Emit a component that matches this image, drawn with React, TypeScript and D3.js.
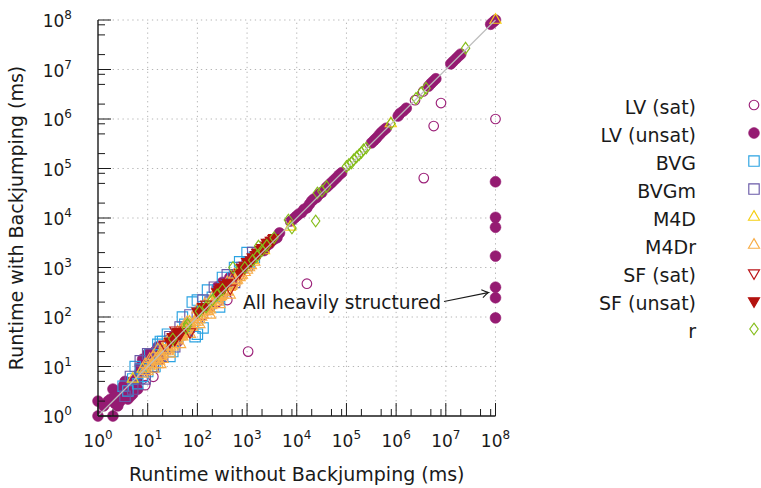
import React from "react";
import * as d3 from "d3";

type Pt = [number, number];

// ---- data (runtime without BJ, runtime with BJ) in ms ----
const lvSat: Pt[] = [
  [4, 4.5], [8.9, 4.2], [13, 6.2], [7.9, 5.6], [25, 22], [63, 50], [130, 110], [250, 200],
  [400, 220], [700, 700], [1050, 20], [7400, 8500], [16000, 470], [2.4e6, 2.4e6],
  [3.5e6, 3.6e6], [3.6e6, 6.4e4], [5.7e6, 7.2e5], [8e6, 2.1e6], [1e8, 1e6],
];

const lvUnsat: Pt[] = [
  [1, 1], [1, 2], [2, 1], [1.6, 2], [1.8, 2.2], [2, 3.5], [2.2, 1.8], [2.5, 2.8], [2.8, 2],
  [3.2, 2.5], [3.2, 4], [3.5, 3.2], [4, 2.2], [4, 4.5], [4.5, 3.5], [5, 2.8], [5, 5], [5.6, 4],
  [6.3, 6.3], [7.1, 10], [7.9, 14], [8.9, 11], [10, 18], [11, 13], [13, 16], [14, 20],
  [1.3, 1.6], [2.5, 1.6], [3, 3], [3.5, 5], [4.5, 2.5], [5, 3.5], [6, 5], [6.3, 3.5], [7, 8],
  [9, 9], [12, 12], [16, 25], [18, 14], [20, 22], [2.2, 2.5],
  [28, 36], [32, 40], [40, 32], [56, 63], [71, 56], [110, 140], [180, 160], [250, 400],
  [320, 500], [450, 630], [500, 450],
  [2200, 2200], [2500, 2800], [2800, 3000], [3200, 3500], [3600, 3800], [4000, 4000], [4500, 5000],
  [8000, 9000], [9000, 1e4], [1e4, 1.1e4], [1.1e4, 1.2e4], [1.26e4, 1.3e4], [1.4e4, 1.5e4],
  [1.6e4, 1.6e4], [1.8e4, 1.9e4], [2e4, 2.2e4], [2.2e4, 2.4e4], [2.5e4, 2.6e4], [2.8e4, 3e4],
  [3.2e4, 3.3e4], [4e4, 4.2e4], [4.5e4, 4.7e4], [5e4, 5.2e4], [5.6e4, 5.8e4], [6.3e4, 6.5e4],
  [7.1e4, 7.4e4], [8e4, 8.2e4], [3.2e5, 3.3e5], [3.6e5, 3.7e5], [4e5, 4.1e5], [4.5e5, 4.7e5],
  [5e5, 5.3e5], [5.6e5, 5.9e5], [6.3e5, 6.5e5], [1.1e6, 1.15e6], [1.2e6, 1.3e6], [1.4e6, 1.45e6],
  [1.6e6, 1.65e6], [4.5e6, 4.6e6], [5e6, 5.2e6], [5.6e6, 5.8e6], [6.3e6, 6.5e6], [1.26e7, 1.3e7],
  [1.4e7, 1.45e7], [1.6e7, 1.65e7], [1.8e7, 1.85e7], [2e7, 2.05e7], [8e7, 8.2e7], [9e7, 9.1e7],
  [1e8, 1e8],
  [1e8, 5.4e4], [1e8, 1.03e4], [1e8, 6.5e3], [1e8, 1.7e3], [1e8, 400], [1e8, 245], [1e8, 96],
];

const bvg: Pt[] = [
  [3.2, 4], [4, 3.2], [5, 5.6], [5.6, 10], [6.3, 4.5], [7.1, 8.9], [7.9, 6.3], [10, 7.9],
  [11, 18], [12, 10], [14, 10], [16, 28], [18, 32], [20, 32], [25, 45], [28, 16], [32, 20],
  [40, 40], [50, 100], [56, 71], [79, 200], [90, 40], [100, 220], [100, 45], [130, 160],
  [130, 60], [160, 350], [200, 250], [280, 160], [320, 630], [400, 450], [560, 1000],
  [710, 1300], [1000, 2000], [1100, 1300], [1400, 1600],
];

const bvgm: Pt[] = [
  [3.5, 2.5], [5, 3.5], [4.5, 6.3], [7.1, 13], [8.9, 5.6], [10, 18], [13, 10], [16, 20],
  [20, 16], [22, 25], [28, 40], [35, 25], [45, 63], [63, 50], [71, 110], [100, 100],
  [130, 220], [180, 200], [220, 400], [320, 320], [400, 710], [560, 500], [790, 1000],
  [1000, 1100], [1300, 2000],
];

const m4d: Pt[] = [
  [5, 5.6], [7.9, 8.9], [12, 11], [20, 22], [28, 28], [45, 50], [70, 79], [110, 120],
  [180, 200], [250, 280], [450, 450], [700, 800], [900, 1100], [1300, 1400], [2200, 2200],
  [7400, 6600], [7.8e5, 8.1e5], [1e8, 1e8],
];

const m4dr: Pt[] = [
  [7.9, 7.1], [10, 7.9], [11, 10], [13, 8.9], [14, 13], [16, 11], [18, 16], [20, 14],
  [20, 18], [22, 20], [25, 20], [28, 25], [32, 25], [32, 32], [35, 28], [40, 35], [45, 40],
  [50, 40], [50, 50], [56, 45], [63, 56], [71, 63], [79, 63], [89, 79], [100, 79], [100, 100],
  [110, 89], [130, 110], [140, 130], [160, 130], [160, 160], [180, 140], [200, 180],
  [220, 200], [250, 200], [280, 250], [320, 280], [350, 320], [400, 320], [450, 400],
  [500, 450], [560, 500], [630, 560], [710, 630], [790, 710], [1000, 890], [1100, 1000],
  [13, 16], [25, 32], [40, 50], [63, 79], [100, 140], [200, 250], [400, 500], [8.9, 11],
  [16, 22], [35, 45],
  [9, 8], [12, 11], [15, 14], [17, 13], [19, 17], [24, 22], [27, 22], [30, 28], [38, 33],
  [42, 40], [48, 42], [53, 47], [60, 53], [67, 63], [75, 67], [85, 71], [95, 89], [120, 100],
  [150, 140], [170, 150], [190, 170], [240, 220], [260, 230], [300, 260], [380, 350],
  [480, 420], [600, 540], [750, 680], [900, 800], [1200, 1100], [1400, 1300],
  [18, 11], [28, 18], [45, 28], [71, 45], [110, 71], [180, 110], [280, 180], [450, 280],
  [11, 14], [22, 28], [56, 71], [140, 180], [280, 350], [560, 710],
];

const sfSat: Pt[] = [
  [22, 28], [36, 54], [71, 50], [150, 180], [300, 380], [460, 380], [600, 720], [1200, 1400],
];

const sfUnsat: Pt[] = [
  [28, 32], [32, 40], [35, 35], [38, 42], [40, 50], [42, 50], [45, 45], [100, 130], [130, 160],
  [250, 320], [280, 350], [300, 380], [320, 400], [350, 400], [360, 450], [400, 500],
  [710, 790], [790, 1000], [890, 1000], [900, 1100], [1000, 1300], [1100, 1300], [1200, 1400],
  [1300, 1600], [1400, 1600], [1500, 1800], [1600, 2000], [1700, 2000], [1800, 2000],
  [1900, 2300], [2000, 2500], [2100, 2500], [2200, 2500], [2400, 2800], [2500, 3200],
  [2700, 3000], [2800, 3200], [3000, 3500], [3200, 3500], [3400, 3800], [3500, 4000],
];

const rData: Pt[] = [
  [32, 36], [60, 60], [63, 71], [110, 130], [150, 160], [200, 220], [250, 280], [320, 360],
  [520, 1000], [900, 1000], [1300, 1400], [1600, 1700], [1700, 2700], [2000, 2200],
  [2500, 2800], [3500, 4000], [6800, 9100], [8000, 6300], [2.4e4, 8700], [2.6e4, 3.2e4],
  [3.2e4, 3.5e4], [4e4, 4.3e4], [1e5, 1.1e5], [1.12e5, 1.2e5], [1.26e5, 1.3e5],
  [1.4e5, 1.5e5], [1.6e5, 1.7e5], [1.8e5, 1.9e5], [2e5, 2.1e5], [2.2e5, 2.4e5],
  [2.5e5, 2.6e5], [7.9e5, 8.1e5], [2.5e6, 2.6e6], [3.2e6, 3.4e6], [4e6, 4.2e6], [2.5e7, 2.7e7],
];

const seriesNames = ["LV (sat)", "LV (unsat)", "BVG", "BVGm", "M4D", "M4Dr", "SF (sat)", "SF (unsat)", "r"];
const decades = [0, 1, 2, 3, 4, 5, 6, 7, 8];
const minorMultipliers = [2, 5, 8];
const xTitle = "Runtime without Backjumping (ms)";
const yTitle = "Runtime with Backjumping (ms)";
const annotation = "All heavily structured";

type Shape = "circle" | "square" | "tri" | "tridown" | "diamond";
interface Series { name: string; data: Pt[]; shape: Shape; color: string; filled: boolean; }

const series: Series[] = [
  { name: seriesNames[0], data: lvSat, shape: "circle", color: "#9c2179", filled: false },
  { name: seriesNames[1], data: lvUnsat, shape: "circle", color: "#951b72", filled: true },
  { name: seriesNames[2], data: bvg, shape: "square", color: "#2ba3e2", filled: false },
  { name: seriesNames[3], data: bvgm, shape: "square", color: "#6a5aa8", filled: false },
  { name: seriesNames[4], data: m4d, shape: "tri", color: "#f5cf14", filled: false },
  { name: seriesNames[5], data: m4dr, shape: "tri", color: "#f8ad48", filled: false },
  { name: seriesNames[6], data: sfSat, shape: "tridown", color: "#bb1419", filled: false },
  { name: seriesNames[7], data: sfUnsat, shape: "tridown", color: "#b3120f", filled: true },
  { name: seriesNames[8], data: rData, shape: "diamond", color: "#85bd1a", filled: false },
];

const FONT = "'DejaVu Sans', sans-serif";

function Marker({ shape, cx, cy, color, filled }: { shape: Shape; cx: number; cy: number; color: string; filled: boolean }) {
  const fill = filled ? color : "none";
  const sw = 1.15;
  if (shape === "circle") {
    return <circle cx={cx} cy={cy} r={filled ? 5.4 : 4.8} fill={fill} stroke={color} strokeWidth={filled ? 0.6 : sw} />;
  }
  let d = "";
  if (shape === "square") {
    const s = 5.2;
    d = `M${cx - s},${cy - s}H${cx + s}V${cy + s}H${cx - s}Z`;
  } else if (shape === "tri" || shape === "tridown") {
    const r = 6.4;
    const sgn = shape === "tri" ? 1 : -1;
    const hw = r * Math.cos(Math.PI / 6);
    d = `M${cx},${cy - sgn * r}L${cx + hw},${cy + sgn * r / 2}L${cx - hw},${cy + sgn * r / 2}Z`;
  } else {
    const w = 4.2, h = 5.8;
    d = `M${cx},${cy - h}L${cx + w},${cy}L${cx},${cy + h}L${cx - w},${cy}Z`;
  }
  return <path d={d} fill={fill} stroke={color} strokeWidth={sw} strokeLinejoin="miter" />;
}

function Pow({ x, y, exp, anchor }: { x: number; y: number; exp: number; anchor: "middle" | "end" }) {
  return (
    <text x={x} y={y} textAnchor={anchor} fontFamily={FONT} fontSize={17} fill="#1a1a1a">
      <tspan>10</tspan>
      <tspan dy={-8} fontSize={12}>{exp}</tspan>
    </text>
  );
}

export default function App() {
  const W = 761, H = 488;
  const left = 98, right = 495.5, top = 20, bottom = 416;
  const x = d3.scaleLog().domain([1, 1e8]).range([left, right]);
  const y = d3.scaleLog().domain([1, 1e8]).range([bottom, top]);

  const majors = decades.map((k) => Math.pow(10, k));
  const minors: number[] = [];
  decades.slice(0, -1).forEach((k) => minorMultipliers.forEach((m) => minors.push(m * Math.pow(10, k))));

  const legendY0 = 105, legendStep = 28, legendTextX = 696, legendMarkX = 754;

  // arrow
  const ax0 = 444, ay0 = 301.5, ax1 = 488.5, ay1 = 292.5;
  const len = Math.hypot(ax1 - ax0, ay1 - ay0);
  const ux = (ax1 - ax0) / len, uy = (ay1 - ay0) / len;
  const nx = -uy, ny = ux;
  const p = (a: number, b: number) => `${ax1 - a * ux + b * nx},${ay1 - a * uy + b * ny}`;
  const head = `M${p(6.5, 4)}Q${p(2, 0.6)} ${p(0, 0)}Q${p(2, -0.6)} ${p(6.5, -4)}`;

  return (
    <svg width={W} height={H} viewBox={`0 0 ${W} ${H}`} style={{ position: "absolute", left: 0, top: 0, background: "#fff" }}>
      <rect x={0} y={0} width={W} height={H} fill="#fff" />
      {/* grid */}
      <g stroke="#b5b5b5" strokeWidth={1} strokeDasharray="1.3 3.6">
        {majors.slice(1).map((v) => (
          <line key={"gx" + v} x1={x(v)} x2={x(v)} y1={bottom} y2={top} />
        ))}
        {majors.slice(1).map((v) => (
          <line key={"gy" + v} x1={left} x2={right} y1={y(v)} y2={y(v)} />
        ))}
      </g>

      {/* markers */}
      {series.map((s) => (
        <g key={s.name}>
          {s.data.map((d, i) => (
            <Marker key={i} shape={s.shape} cx={x(d[0])} cy={y(d[1])} color={s.color} filled={s.filled} />
          ))}
        </g>
      ))}

      {/* diagonal */}
      <line x1={x(1)} y1={y(1)} x2={x(1e8)} y2={y(1e8)} stroke="#bdbdbd" strokeWidth={1.2} />

      {/* axes */}
      <g stroke="#1a1a1a">
        <line x1={left} x2={right} y1={bottom} y2={bottom} strokeWidth={1.4} />
        <line x1={left} x2={left} y1={bottom} y2={top} strokeWidth={1.4} />
        {majors.map((v) => (
          <line key={"tx" + v} x1={x(v)} x2={x(v)} y1={bottom} y2={bottom - 13} strokeWidth={1} />
        ))}
        {minors.map((v) => (
          <line key={"mx" + v} x1={x(v)} x2={x(v)} y1={bottom} y2={bottom - 7} strokeWidth={1} />
        ))}
        {majors.map((v) => (
          <line key={"ty" + v} x1={left} x2={left + 13} y1={y(v)} y2={y(v)} strokeWidth={1} />
        ))}
        {minors.map((v) => (
          <line key={"my" + v} x1={left} x2={left + 7} y1={y(v)} y2={y(v)} strokeWidth={1} />
        ))}
      </g>

      {/* tick labels */}
      {decades.map((k) => (
        <Pow key={"lx" + k} x={x(Math.pow(10, k))} y={446.5} exp={k} anchor="middle" />
      ))}
      {decades.map((k) => (
        <Pow key={"ly" + k} x={72} y={y(Math.pow(10, k)) + 7} exp={k} anchor="end" />
      ))}

      {/* axis titles */}
      <text x={(left + right) / 2} y={481} textAnchor="middle" fontFamily={FONT} fontSize={19} fill="#1a1a1a">
        {xTitle}
      </text>
      <text transform={`translate(23, ${(top + bottom) / 2}) rotate(-90)`} textAnchor="middle" fontFamily={FONT} fontSize={19} fill="#1a1a1a">
        {yTitle}
      </text>

      {/* annotation */}
      <text x={441} y={308.5} textAnchor="end" fontFamily={FONT} fontSize={18.6} fill="#1a1a1a">
        {annotation}
      </text>
      <line x1={ax0} y1={ay0} x2={ax1 - ux * 0.5} y2={ay1 - uy * 0.5} stroke="#1a1a1a" strokeWidth={1.1} />
      <path d={head} fill="none" stroke="#1a1a1a" strokeWidth={1.1} />

      {/* legend */}
      {series.map((s, i) => (
        <g key={"lg" + s.name}>
          <text x={legendTextX} y={legendY0 + i * legendStep + 9} textAnchor="end" fontFamily={FONT} fontSize={19} fill="#1a1a1a">
            {s.name}
          </text>
          <Marker shape={s.shape} cx={legendMarkX} cy={legendY0 + i * legendStep} color={s.color} filled={s.filled} />
        </g>
      ))}
    </svg>
  );
}
